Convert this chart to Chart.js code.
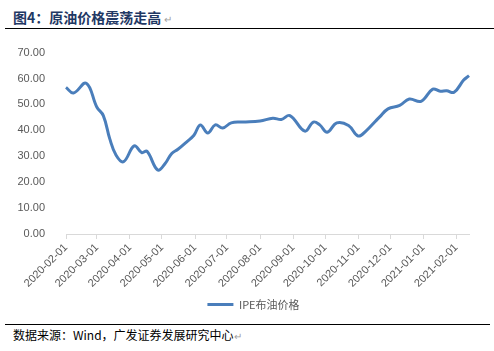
<!DOCTYPE html>
<html>
<head>
<meta charset="utf-8">
<script src="https://cdn.jsdelivr.net/npm/chart.js@4/dist/chart.umd.min.js"></script>
<style>
    html, body { margin: 0; padding: 0; background: #fff; }
    body { width: 494px; height: 351px; position: relative; overflow: hidden; }
    #title {
        position: absolute; left: 13px; top: 7px;
        font: bold 14px "Noto Sans CJK SC", sans-serif; color: #1f3864;
        white-space: nowrap;
    }
    #source {
        position: absolute; left: 13px; top: 326px;
        font: 12px "Noto Sans CJK SC", sans-serif; color: #000;
        white-space: nowrap;
    }
    .mark { color: #a0a0a0; font-weight: normal; font-size: 10px; }
    .rule { position: absolute; height: 0; border-top: 1.5px solid #000; }
    #chartBox { position: absolute; left: 0; top: 33px; width: 494px; height: 287px; }
</style>
</head>
<body>
<div id="title">图4：原油价格震荡走高 <span class="mark">↵</span></div>
<div class="rule" style="left:5px; top:28px; width:489px;"></div>
<div id="chartBox"><canvas id="oilChart"></canvas></div>
<div class="rule" style="left:5px; top:324px; width:485px;"></div>
<div id="source">数据来源：Wind，广发证券发展研究中心<span class="mark">↵</span></div>

<script>
// =========================
// DATA
// =========================
const seriesName = 'IPE布油价格';

const dates = [
    '2020-02-01', '2020-02-08', '2020-02-20', '2020-03-01', '2020-03-07',
    '2020-03-13', '2020-03-19', '2020-03-26', '2020-04-05', '2020-04-12',
    '2020-04-17', '2020-04-27', '2020-05-04', '2020-05-10', '2020-05-16',
    '2020-05-24', '2020-05-31', '2020-06-06', '2020-06-13', '2020-06-20',
    '2020-06-27', '2020-07-05', '2020-07-16', '2020-08-01', '2020-08-13',
    '2020-08-21', '2020-08-29', '2020-09-12', '2020-09-20', '2020-09-26',
    '2020-10-03', '2020-10-12', '2020-10-23', '2020-11-01', '2020-11-09',
    '2020-11-17', '2020-11-21', '2020-11-29', '2020-12-10', '2020-12-19',
    '2020-12-30', '2021-01-10', '2021-01-17', '2021-01-23', '2021-01-30',
    '2021-02-08', '2021-02-13'
];

const prices = [
    56.6, 54.4, 58.2, 48.9, 45.7,
    36.8, 30.4, 27.9, 34.0, 31.4,
    31.9, 24.7, 27.2, 31.0, 32.7,
    35.5, 38.1, 42.1, 39.0, 42.1,
    40.9, 42.9, 43.2, 43.6, 44.7,
    44.2, 45.7, 39.7, 43.2, 42.1,
    39.3, 42.9, 41.9, 37.8, 40.0,
    43.4, 45.1, 48.3, 49.6, 52.1,
    51.2, 55.9, 55.1, 55.3, 54.7,
    59.4, 61.1
];

const tickDates = [
    '2020-02-01', '2020-03-01', '2020-04-01', '2020-05-01', '2020-06-01',
    '2020-07-01', '2020-08-01', '2020-09-01', '2020-10-01', '2020-11-01',
    '2020-12-01', '2021-01-01', '2021-02-01'
];

const yMin = 0;
const yMax = 70;
const yStep = 10;

// =========================
// HELPERS
// =========================
const DAY = 86400000;
const startMs = Date.UTC(2020, 1, 1);

function toDay(s) {
    const p = s.split('-').map(Number);
    return Math.round((Date.UTC(p[0], p[1] - 1, p[2]) - startMs) / DAY);
}

function toLabel(day) {
    const d = new Date(startMs + day * DAY);
    const mm = String(d.getUTCMonth() + 1).padStart(2, '0');
    const dd = String(d.getUTCDate()).padStart(2, '0');
    return d.getUTCFullYear() + '-' + mm + '-' + dd;
}

const points = dates.map((d, i) => ({ x: toDay(d), y: prices[i] }));
const tickDays = tickDates.map(toDay);

// =========================
// CHART
// =========================
const axisColor = '#d9d9d9';
const textColor = '#595959';

new Chart(document.getElementById('oilChart'), {
    type: 'line',
    data: {
        datasets: [{
            label: seriesName,
            data: points,
            borderColor: '#4a7ebb',
            backgroundColor: '#4a7ebb',
            borderWidth: 3,
            pointRadius: 0,
            tension: 0.4,
            fill: false,
            clip: false
        }]
    },
    options: {
        responsive: true,
        maintainAspectRatio: false,
        animation: false,
        layout: { padding: { left: 13, right: 0, top: 11, bottom: 0 } },
        plugins: {
            tooltip: { enabled: false },
            legend: {
                position: 'bottom',
                labels: {
                    usePointStyle: true,
                    pointStyle: 'line',
                    pointStyleWidth: 26,
                    boxHeight: 3,
                    padding: 5,
                    color: textColor,
                    font: { family: '"Noto Sans CJK SC", sans-serif', size: 11 }
                }
            }
        },
        scales: {
            x: {
                type: 'linear',
                min: 0,
                max: points[points.length - 1].x,
                afterBuildTicks: scale => {
                    scale.ticks = tickDays.map(v => ({ value: v }));
                },
                afterFit: scale => { scale.height = 60; },
                ticks: {
                    autoSkip: false,
                    minRotation: 45,
                    maxRotation: 45,
                    padding: 2,
                    color: textColor,
                    font: { family: '"Liberation Sans", Arial, sans-serif', size: 11 },
                    callback: v => toLabel(v)
                },
                grid: {
                    drawOnChartArea: false,
                    color: axisColor,
                    tickLength: 5
                },
                border: { color: axisColor, width: 1 }
            },
            y: {
                min: yMin,
                max: yMax,
                afterFit: scale => { scale.width = 53; },
                ticks: {
                    stepSize: yStep,
                    padding: 13,
                    color: textColor,
                    font: { family: '"Liberation Sans", Arial, sans-serif', size: 11 },
                    callback: v => v.toFixed(2)
                },
                grid: { display: false },
                border: { display: false }
            },
            // empty right margin, so the legend sits where the original has it
            yRight: {
                position: 'right',
                min: 0,
                max: 1,
                afterFit: scale => { scale.width = 25; },
                ticks: { display: false },
                grid: { display: false },
                border: { display: false }
            }
        }
    }
});
</script>
</body>
</html>
